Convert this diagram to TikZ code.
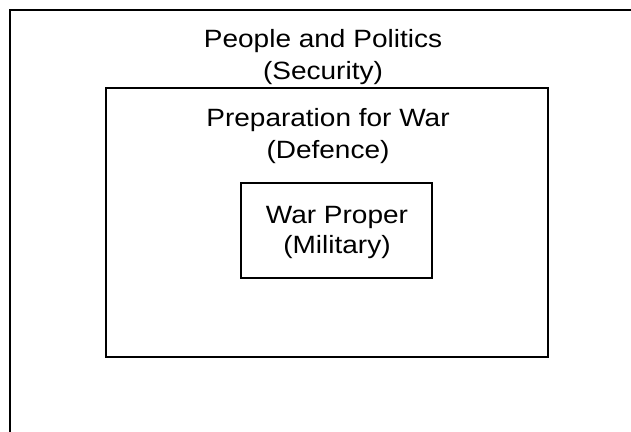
\documentclass[tikz,border=0pt]{standalone}
\usepackage{fontspec}
\setmainfont{Liberation Sans}[FakeStretch=1.12]
\usetikzlibrary{positioning}

\begin{document}
\begin{tikzpicture}[x=1pt, y=-1pt, font=\fontsize{25}{32}\selectfont,
      box/.style={draw=black, line width=2pt, inner sep=0pt},
      caption/.style={align=center, inner sep=0pt, anchor=base}]
    \useasboundingbox (0,0) rectangle (631,431);
    \clip (0,0) rectangle (631,431);
    % nested areas
    \node[box, minimum width=700, minimum height=460] (politics) at (360,240) {};
    \node[box, minimum width=442, minimum height=269] (defence) at (327,222.5) {};
    \node[box, minimum width=191, minimum height=95] (military) at (336.5,230.5) {};
    % captions (base = last line)
    \node[caption] (politicstxt) at (323,79) {People and Politics\\(Security)};
    \node[caption] (defencetxt) at (328,158) {Preparation for War\\(Defence)};
    \node[caption, font=\fontsize{25}{30}\selectfont] (militarytxt) at (337,253) {War Proper\\(Military)};
\end{tikzpicture}
\end{document}
